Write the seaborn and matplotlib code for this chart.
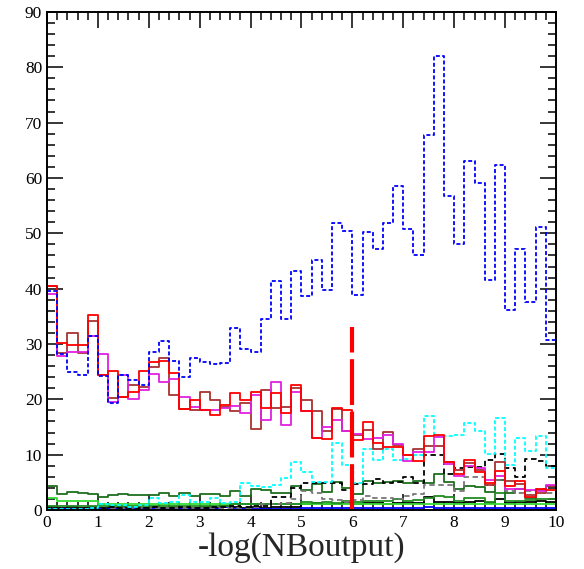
import numpy as np
import pandas as pd
import matplotlib
matplotlib.use("Agg")
import matplotlib.pyplot as plt
import seaborn as sns
from matplotlib.ticker import MultipleLocator

# binning: 50 bins of 0.2 over -log(NBoutput) in [0, 10]
bin_width = 0.2
x_range = (0, 10)
centers = np.arange(50) * bin_width + bin_width / 2

blue_dash = [39.5, 28.2, 24.9, 24.4, 31.4, 24.3, 19.4, 24.4, 23.5, 22.6,
             28.5, 30.5, 26.9, 24.1, 27.5, 26.7, 26.3, 26.5, 32.9, 29.1,
             28.6, 34.5, 41.3, 34.5, 43.1, 38.6, 45.2, 39.8, 51.9, 50.5,
             38.9, 50.2, 47.2, 51.9, 58.6, 50.8, 46.1, 67.7, 82.0, 56.8,
             48.0, 63.0, 59.1, 41.6, 62.4, 36.2, 47.1, 37.6, 51.1, 30.8]
red = [40.4, 30.2, 29.9, 29.9, 35.2, 24.4, 25.2, 20.5, 21.3, 25.2,
       26.7, 27.0, 24.8, 18.2, 19.9, 18.1, 17.2, 19.0, 21.1, 19.9,
       21.3, 18.4, 21.1, 17.5, 22.5, 17.9, 13.0, 12.9, 18.5, 18.1,
       12.7, 15.9, 12.1, 11.4, 11.3, 10.0, 8.8, 13.3, 13.5, 8.7,
       6.5, 9.1, 6.8, 4.8, 7.1, 4.4, 5.3, 2.4, 3.8, 3.6]
magenta = [39.0, 27.8, 28.6, 28.6, 31.4, 28.1, 19.5, 24.4, 20.0, 21.7,
           24.6, 23.1, 23.7, 20.5, 18.6, 18.1, 18.1, 18.4, 18.8, 17.5,
           20.8, 16.3, 23.2, 15.3, 21.4, 17.9, 13.1, 15.0, 16.3, 14.2,
           13.7, 12.9, 13.0, 13.5, 11.9, 8.8, 10.5, 10.4, 13.2, 8.4,
           6.2, 8.0, 7.6, 5.5, 6.2, 3.8, 3.8, 3.7, 3.5, 4.6]
brown = [40.5, 28.4, 32.0, 28.3, 34.1, 24.4, 20.2, 20.5, 22.6, 22.3,
         25.8, 27.5, 20.8, 18.2, 18.0, 21.3, 19.9, 18.6, 17.8, 19.4,
         14.6, 21.6, 18.5, 18.6, 22.0, 19.8, 17.8, 14.2, 18.3, 14.2,
         13.5, 14.5, 11.1, 14.1, 11.7, 10.0, 11.1, 11.5, 11.6, 8.7,
         7.3, 8.5, 7.2, 4.5, 8.7, 5.2, 4.7, 2.7, 3.1, 4.3]
cyan_dash = [0.2, 0.2, 0.2, 0.2, 0.3, 1.0, 0.9, 0.9, 0.6, 0.9,
             2.2, 1.2, 1.5, 2.7, 1.5, 1.5, 2.2, 1.2, 1.5, 4.9,
             4.3, 4.1, 4.5, 5.8, 8.7, 6.9, 5.0, 5.0, 12.1, 8.2,
             4.9, 11.1, 9.1, 11.1, 9.1, 9.2, 9.9, 16.9, 13.4, 13.4,
             13.6, 15.8, 14.2, 10.2, 16.6, 8.2, 13.0, 10.6, 13.4, 7.6]
black_dash = [0.4, 0.3, 0.3, 0.4, 0.3, 0.4, 0.5, 0.4, 0.3, 0.4,
              0.5, 0.4, 0.3, 0.5, 0.4, 0.3, 0.5, 0.6, 0.7, 0.6,
              0.8, 0.8, 2.3, 2.3, 4.0, 4.9, 4.9, 4.9, 4.9, 3.7,
              4.7, 4.7, 5.6, 4.9, 5.0, 5.9, 4.9, 10.0, 10.0, 6.5,
              7.5, 7.8, 7.8, 9.0, 10.1, 7.6, 6.0, 9.2, 8.9, 8.0]
gray_dash = [0.3, 0.3, 0.3, 0.3, 0.3, 0.3, 0.3, 0.3, 0.3, 0.3,
             0.3, 0.3, 0.3, 0.3, 0.3, 0.3, 0.3, 0.3, 0.3, 0.3,
             0.5, 1.0, 1.0, 1.2, 2.0, 3.5, 3.0, 2.0, 1.8, 1.5,
             1.8, 2.5, 2.2, 2.2, 2.0, 2.5, 2.8, 4.5, 4.6, 4.5,
             3.5, 5.9, 5.9, 4.5, 5.5, 3.5, 3.0, 3.5, 3.8, 3.0]
dkgreen = [4.3, 2.9, 3.2, 3.1, 2.9, 2.4, 2.7, 2.9, 2.7, 2.7,
           2.7, 3.1, 2.6, 3.0, 2.5, 2.8, 2.8, 2.5, 3.5, 2.6,
           3.8, 3.6, 3.1, 3.1, 4.3, 3.7, 4.7, 3.3, 5.0, 3.9,
           2.9, 5.3, 4.9, 5.1, 5.3, 4.9, 5.2, 4.9, 6.5, 5.0,
           3.8, 4.3, 4.1, 3.3, 5.5, 3.1, 3.8, 2.1, 3.7, 4.3]
green2 = [0.8, 0.8, 0.8, 0.8, 0.8, 0.8, 0.8, 0.8, 0.8, 0.8,
          0.8, 0.8, 0.8, 0.8, 0.8, 0.8, 0.8, 0.8, 1.0, 1.0,
          1.0, 1.0, 1.0, 1.0, 1.0, 1.5, 1.3, 1.5, 1.2, 1.6,
          1.5, 1.7, 1.6, 1.6, 2.0, 1.6, 1.8, 2.2, 2.6, 2.4,
          1.6, 2.2, 2.2, 1.5, 3.0, 1.6, 1.7, 1.8, 1.9, 2.0]
ltgreen = [2.1, 1.6, 1.6, 1.6, 1.6, 1.0, 1.0, 1.0, 1.0, 1.0,
           1.0, 1.0, 1.0, 1.0, 1.0, 1.0, 1.0, 1.0, 1.0, 1.1,
           1.1, 1.1, 1.1, 1.1, 1.1, 1.1, 1.1, 1.1, 1.1, 1.1,
           1.0, 1.0, 1.0, 1.0, 1.0, 1.0, 1.0, 1.0, 1.0, 1.0,
           1.0, 1.0, 1.0, 1.0, 1.0, 1.0, 1.0, 1.0, 1.0, 1.0]
black = [0.5, 0.4, 0.5, 0.4, 0.5, 0.4, 0.4, 0.5, 0.4, 0.4,
         0.5, 0.4, 0.5, 0.4, 0.4, 0.5, 0.4, 0.8, 0.5, 0.4,
         0.5, 0.4, 0.5, 0.6, 0.5, 1.0, 1.2, 1.0, 1.1, 1.2,
         1.0, 1.3, 1.2, 1.1, 1.2, 1.3, 1.2, 2.3, 1.5, 1.4,
         1.3, 1.4, 1.6, 1.2, 2.0, 1.3, 1.4, 1.5, 1.6, 1.5]
blue = [0.2, 0.2, 0.2, 0.2, 0.2, 0.2, 0.2, 0.2, 0.2, 0.2,
        0.2, 0.2, 0.2, 0.2, 0.2, 0.2, 0.2, 0.6, 0.2, 0.2,
        0.2, 0.2, 0.2, 0.2, 0.2, 0.3, 0.3, 0.3, 0.3, 0.3,
        0.3, 0.3, 0.3, 0.3, 0.3, 0.3, 0.3, 0.5, 0.3, 0.3,
        0.3, 0.3, 0.3, 0.3, 0.3, 0.3, 0.3, 0.3, 0.3, 0.3]

cut_x = 6.0
cut_top = 33.0

sns.set_style("white")
plt.rcParams['font.family'] = ['Liberation Serif', 'DejaVu Serif']

fig = plt.figure(figsize=(5.84, 5.69), dpi=100)
ax = fig.add_axes([0.0805, 0.1037, 0.8715, 0.8753])

series = [
    (black, 'black', None),
    (blue, '#0000ff', None),
    (ltgreen, '#33dd33', None),
    (green2, '#228b22', None),
    (dkgreen, '#1e6e1e', None),
    (gray_dash, '#777777', (3, 2)),
    (black_dash, 'black', (3, 2)),
    (cyan_dash, '#00ffff', (2.2, 1.3)),
    (brown, '#a83232', None),
    (magenta, '#e020e0', None),
    (red, '#ff0000', None),
    (blue_dash, '#0000ff', (2.2, 1.3)),
]

for vals, col, dash in series:
    df = pd.DataFrame({'x': centers, 'w': vals})
    kw = dict(linewidth=1.3)
    if dash is not None:
        kw['dashes'] = dash
    sns.histplot(data=df, x='x', weights='w', binwidth=bin_width,
                 binrange=x_range, element='step', fill=False,
                 color=col, ax=ax, **kw)

# cut position
ax.plot([cut_x, cut_x], [0, cut_top], color='#ff0000', lw=3,
        dashes=(11, 1.6))

ax.set_xlim(0, 10)
ax.set_ylim(0, 90)
ax.xaxis.set_major_locator(MultipleLocator(1))
ax.xaxis.set_minor_locator(MultipleLocator(0.2))
ax.yaxis.set_major_locator(MultipleLocator(10))
ax.yaxis.set_minor_locator(MultipleLocator(2))
ax.tick_params(which='both', direction='in', top=True, right=True,
               bottom=True, left=True, width=1.1, labelsize=12.5,
               colors='black')
ax.tick_params(which='major', length=11.5)
ax.tick_params(which='minor', length=5.5)
for s in ax.spines.values():
    s.set_linewidth(1.4)
    s.set_color('black')

ax.set_xlabel('-log(NBoutput)', fontsize=24, labelpad=1)
ax.set_ylabel('')

fig.savefig('out.png', dpi=100)
